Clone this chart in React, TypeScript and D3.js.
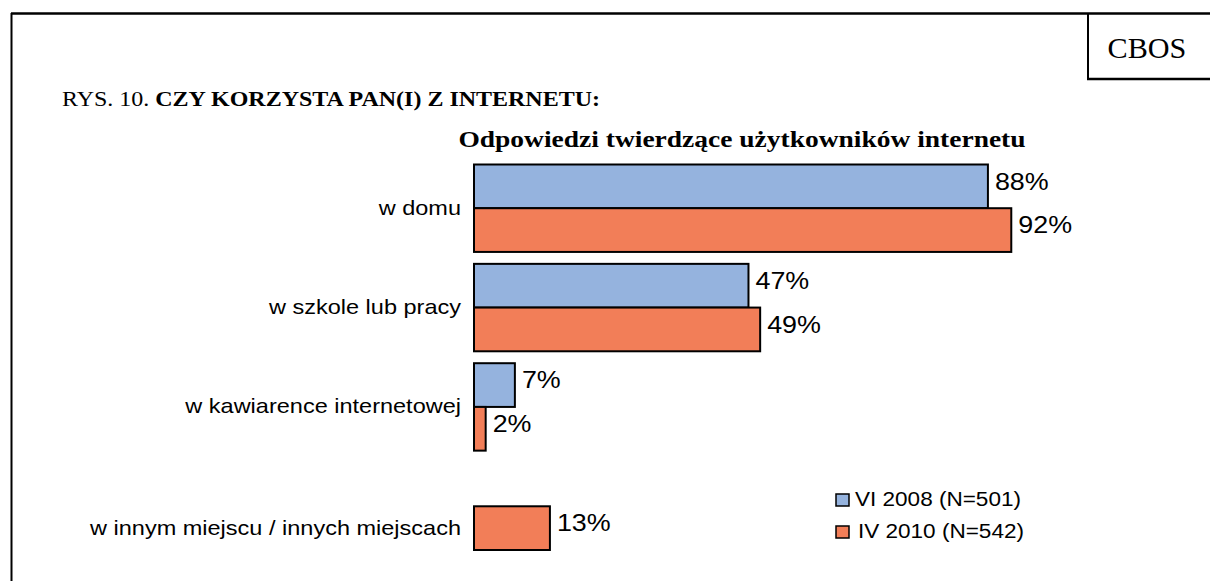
import React from "react";
import * as d3 from "d3";

const categories = ["w domu", "w szkole lub pracy", "w kawiarence internetowej", "w innym miejscu / innych miejscach"];
const seriesNames = ["VI 2008 (N=501)", "IV 2010 (N=542)"];
const values2008: (number | null)[] = [88, 47, 7, null];
const values2010: (number | null)[] = [92, 49, 2, 13];
const seriesColors = ["#95B3DE", "#F27E58"];

const W = 1210;
const H = 581;
const SANS = "Liberation Sans, Arial, sans-serif";
const SERIF = "Liberation Serif, Times New Roman, serif";

function stretch(x0: number, s: number) {
  return `translate(${x0},0) scale(${s},1) translate(${-x0},0)`;
}

export default function App() {
  const series = [values2008, values2010];
  const x = d3.scaleLinear().domain([0, 100]).range([474, 474 + 584]);
  const y = d3.scaleBand().domain(categories).range([164.5, 550]).paddingInner(0.12).paddingOuter(0);
  const sub = d3.scaleBand().domain(["0", "1"]).range([0, y.bandwidth()]);

  return (
    <svg width={W} height={H} style={{ position: "absolute", left: 0, top: 0 }}>
      <rect x={0} y={0} width={W} height={H} fill="#fff" />
      <line x1={11} x2={W} y1={13.5} y2={13.5} stroke="#000" strokeWidth={2.5} />
      <line x1={11.5} x2={11.5} y1={13} y2={H} stroke="#000" strokeWidth={2} />
      <line x1={1088} x2={1088} y1={13} y2={79} stroke="#000" strokeWidth={2} />
      <line x1={1087} x2={W} y1={79} y2={79} stroke="#000" strokeWidth={2.5} />
      <text x={1147} y={58} textAnchor="middle" fontFamily={SERIF} fontSize={29} transform={stretch(1147, 1.04)}>CBOS</text>

      <text x={62} y={106} fontFamily={SERIF} fontSize={20} transform={stretch(62, 1.2)}>
        RYS. 10. <tspan fontWeight="bold">CZY KORZYSTA PAN(I) Z INTERNETU:</tspan>
      </text>
      <text x={742} y={147} textAnchor="middle" fontFamily={SERIF} fontSize={23.5} fontWeight="bold" transform={stretch(742, 1.17)}>
        Odpowiedzi twierdzące użytkowników internetu
      </text>

      {categories.map((c, i) => {
        const present = series.map((s, k) => (s[i] == null ? -1 : k)).filter((k) => k >= 0);
        const tops = present.map((k) => (y(c) as number) + (sub(String(k)) as number));
        const cy = (d3.min(tops)! + d3.max(tops)! + sub.bandwidth()) / 2;
        return (
          <g key={c}>
            {series.map((s, k) => {
              const v = s[i];
              if (v == null) return null;
              const by = (y(c) as number) + (sub(String(k)) as number);
              const lx = x(v) + 7;
              return (
                <g key={k}>
                  <rect x={x(0)} y={by} width={x(v) - x(0)} height={sub.bandwidth()} fill={seriesColors[k]} stroke="#000" strokeWidth={2} />
                  <text x={lx} y={by + sub.bandwidth() / 2 - 3} fontFamily={SANS} fontSize={24} dominantBaseline="middle" transform={stretch(lx, 1.12)}>
                    {v}%
                  </text>
                </g>
              );
            })}
            <text x={461} y={cy + 1} textAnchor="end" dominantBaseline="middle" fontFamily={SANS} fontSize={21} transform={stretch(461, 1.12)}>
              {c}
            </text>
          </g>
        );
      })}

      {seriesNames.map((n, k) => {
        const tx = 855 + k * 3;
        return (
          <g key={n}>
            <rect x={836} y={494 + k * 32} width={13} height={12} fill={seriesColors[k]} stroke="#000" strokeWidth={1.5} />
            <text x={tx} y={500.5 + k * 32} dominantBaseline="middle" fontFamily={SANS} fontSize={20.5} transform={stretch(tx, 1.1)}>
              {n}
            </text>
          </g>
        );
      })}
    </svg>
  );
}
